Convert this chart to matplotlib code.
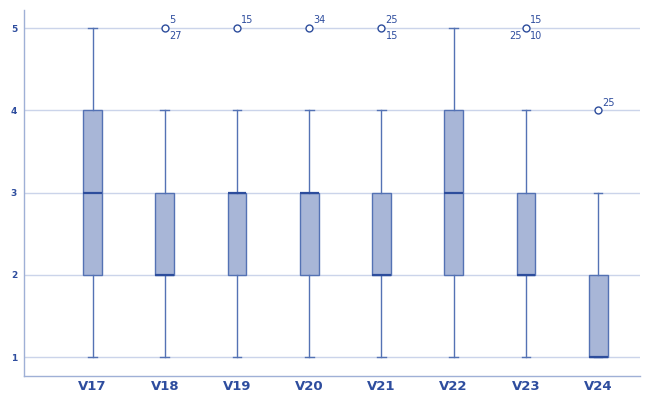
import matplotlib
matplotlib.use("Agg")
import matplotlib.pyplot as plt

# five-number summaries per variable
labels = ["V17", "V18", "V19", "V20", "V21", "V22", "V23", "V24"]
whis_lo = [1, 1, 1, 1, 1, 1, 1, 1]
q1 = [2, 2, 2, 2, 2, 2, 2, 1]
medians = [3, 2, 3, 3, 2, 3, 2, 1]
q3 = [4, 3, 3, 3, 3, 4, 3, 2]
whis_hi = [5, 4, 4, 4, 4, 5, 4, 3]
outliers = [[], [5], [5], [5], [5], [], [5], [4]]

# case ids next to each outlier: (text, placement)
outlier_ids = [
    [],
    [("5", "ur"), ("27", "lr")],
    [("15", "ur")],
    [("34", "ur")],
    [("25", "ur"), ("15", "lr")],
    [],
    [("15", "ur"), ("25", "ll"), ("10", "lr")],
    [("25", "ur")],
]

edge = "#5472b4"
fill = "#a8b6d7"
med_col = "#2d4d9c"
grid_col = "#cbd4ea"
text_col = "#2e4d9e"

fig = plt.figure(figsize=(6.46, 3.97), dpi=100)
ax = fig.add_axes([24 / 646, 1 - 376 / 397, 616 / 646, 366 / 397])

stats = []
for i, name in enumerate(labels):
    stats.append(dict(label=name, whislo=whis_lo[i], q1=q1[i], med=medians[i],
                      q3=q3[i], whishi=whis_hi[i], fliers=outliers[i]))

ax.bxp(stats, positions=range(1, len(labels) + 1), widths=0.26,
       patch_artist=True, showfliers=True,
       boxprops=dict(facecolor=fill, edgecolor=edge, linewidth=1.0),
       medianprops=dict(color=med_col, linewidth=1.6),
       whiskerprops=dict(color=edge, linewidth=1.0),
       capprops=dict(color=edge, linewidth=1.0),
       capwidths=0.12,
       flierprops=dict(marker="o", markersize=5, markerfacecolor="white",
                       markeredgecolor=med_col, markeredgewidth=1.0))

offsets = {"ur": (3, 2, "left", "bottom"), "lr": (3, -2, "left", "top"),
           "ll": (-3, -2, "right", "top")}
for i, ids in enumerate(outlier_ids):
    for txt, where in ids:
        dx, dy, ha, va = offsets[where]
        ax.annotate(txt, (i + 1, outliers[i][0]), xytext=(dx, dy),
                    textcoords="offset points", ha=ha, va=va,
                    fontsize=7, color=text_col, fontfamily="DejaVu Sans")

ax.set_xlim(0.05, 8.58)
ax.set_ylim(0.77, 5.22)
ax.set_yticks([1, 2, 3, 4, 5])
ax.set_yticklabels(["1", "2", "3", "4", "5"], fontsize=6.5, color=text_col,
                   fontweight="bold")
ax.set_xticklabels(labels, fontsize=9.5, color=text_col, fontweight="bold")
ax.tick_params(axis="both", length=0)
ax.tick_params(axis="x", pad=3)
ax.tick_params(axis="y", pad=5)

ax.yaxis.grid(True, color=grid_col, linewidth=1.0)
ax.set_axisbelow(True)
for side in ["top", "right"]:
    ax.spines[side].set_visible(False)
for side in ["left", "bottom"]:
    ax.spines[side].set_color("#9fb0d6")
    ax.spines[side].set_linewidth(1.0)

fig.savefig("out.png", dpi=100)
